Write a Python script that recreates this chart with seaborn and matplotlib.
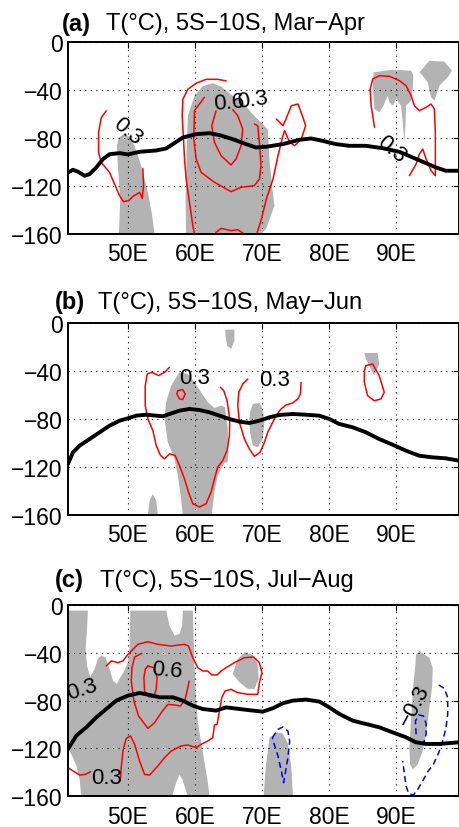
import matplotlib
matplotlib.use("Agg")
import matplotlib.pyplot as plt
import seaborn as sns

# ---------------- data (lon in degrees E, depth in m) ----------------
xticks = [50, 60, 70, 80, 90]
xticklabels = ["50E", "60E", "70E", "80E", "90E"]
yticks = [0, -40, -80, -120, -160]
yticklabels = ["0", "\u221240", "\u221280", "\u2212120", "\u2212160"]
titles_tag = ["(a)", "(b)", "(c)"]
titles_text = ["T(\u00b0C), 5S\u221210S, Mar\u2212Apr",
               "T(\u00b0C), 5S\u221210S, May\u2212Jun",
               "T(\u00b0C), 5S\u221210S, Jul\u2212Aug"]

# thick black line (thermocline depth)
line_a_lon = [41.07, 41.81, 42.56, 43.55, 44.29, 45.29, 46.28, 47.27, 48.76, 50.0, 51.74, 54.22, 55.71,
              56.7, 58.19, 60.17, 62.16, 63.65, 65.63, 67.62, 69.1, 70.6, 73.08, 75.56, 77.3, 79.03,
              81.02, 83.0, 85.48, 87.97, 90.45, 92.43, 94.42, 95.9, 97.39, 99.38]
line_a_dep = [-108.7, -106.5, -108.1, -111.5, -110.1, -104.5, -97.6, -93.5, -92.6, -93.7, -91.5, -90.4,
              -88.7, -85.1, -79.6, -76.8, -76.0, -77.6, -81.0, -85.1, -87.9, -87.3, -85.1, -81.5, -80.4,
              -82.4, -85.1, -86.5, -86.5, -88.5, -91.5, -96.2, -100.9, -104.5, -107.3, -107.3]
line_b_lon = [41.07, 41.81, 42.8, 44.29, 45.78, 47.27, 48.76, 50.0, 51.24, 52.73, 54.22, 55.21, 56.2,
              57.69, 59.18, 60.67, 62.16, 63.65, 65.14, 66.63, 68.11, 69.6, 71.09, 72.58, 74.57, 76.55,
              78.54, 80.02, 81.51, 83.5, 85.48, 87.47, 89.45, 91.44, 93.42, 95.41, 97.39, 99.38]
line_b_dep = [-117.4, -107.7, -102.1, -96.6, -91.0, -85.4, -81.3, -79.3, -77.1, -76.3, -77.1, -77.6,
              -75.7, -72.9, -71.5, -72.4, -74.3, -77.1, -79.9, -82.1, -83.2, -81.3, -78.5, -76.5, -75.7,
              -76.3, -77.1, -79.9, -84.0, -86.8, -91.0, -96.6, -101.3, -106.3, -110.5, -111.9, -112.7,
              -114.7]
line_c_lon = [41.07, 42.31, 43.8, 45.29, 46.77, 48.26, 50.0, 51.74, 53.23, 54.71, 56.7, 58.19, 59.68,
              61.17, 63.15, 64.64, 66.63, 68.61, 70.1, 71.59, 73.08, 74.57, 76.55, 78.54, 80.02, 81.51,
              83.5, 85.48, 87.47, 89.45, 91.44, 92.93, 94.42, 96.4, 99.38]
line_c_dep = [-120.4, -109.3, -102.3, -93.9, -87.0, -80.0, -75.8, -73.6, -75.2, -77.2, -77.2, -80.0,
              -84.2, -87.0, -88.3, -85.6, -87.0, -88.3, -89.2, -86.4, -82.2, -80.0, -79.1, -80.8, -85.6,
              -91.1, -96.7, -99.5, -102.3, -106.5, -110.6, -114.8, -116.2, -116.2, -114.8]

# grey shaded (significant) regions: (lon, depth) vertices
shade_a = [
    [(48.66, -160), (48.86, -130.9), (48.51, -103.2), (48.36, -86.5), (48.66, -79.6), (49.35, -76.8),
     (50.25, -78.8), (50.99, -86.5), (51.99, -103.2), (52.98, -125.3), (53.62, -144.8), (53.97, -160)],
    [(58.68, -160), (58.59, -131.0), (58.78, -89.0), (58.93, -61.6), (59.93, -44.9), (61.17, -36.6),
     (62.66, -34.4), (63.9, -37.2), (65.63, -44.9), (67.12, -50.5), (68.61, -60.2), (70.1, -68.5),
     (70.84, -72.7), (71.09, -97.6), (71.49, -119.8), (71.84, -136.4), (70.6, -155.8), (69.85, -160)],
    [(86.61, -25.3), (89.49, -23.1), (92.22, -23.9), (92.56, -28.1), (92.46, -39.2), (92.22, -48.9),
     (91.47, -53.1), (91.37, -69.7), (91.22, -83.6), (90.97, -66.9), (90.72, -53.1), (89.98, -47.5),
     (89.49, -53.1), (88.99, -50.3), (88.74, -44.7), (88.1, -53.1), (87.5, -58.6), (86.76, -55.8),
     (86.5, -39.2)],
    [(93.45, -25.3), (94.94, -15.6), (97.17, -16.4), (98.31, -23.9), (97.67, -29.4), (96.43, -36.4),
     (95.68, -48.9), (95.19, -46.1), (94.69, -33.6), (93.95, -28.1)],
]
shade_b = [
    [(58.18, -160), (57.93, -146.4), (57.44, -127.0), (56.94, -113.1), (55.95, -99.2), (55.46, -79.8),
     (55.7, -65.8), (56.45, -52.0), (57.69, -40.8), (58.93, -42.3), (59.93, -49.2), (60.91, -57.5),
     (61.9, -65.8), (62.9, -70.8), (63.89, -68.7), (64.48, -70.0), (64.88, -88.1), (64.98, -104.8),
     (64.88, -115.8), (64.39, -116.4), (63.39, -127.0), (62.9, -140.8), (62.5, -160)],
    [(52.98, -160), (53.23, -148.0), (53.72, -142.5), (54.22, -148.0), (54.47, -160)],
    [(64.54, -5.3), (65.88, -5.3), (65.88, -14.5), (65.38, -21.4), (64.79, -18.6), (64.54, -10.0)],
    [(68.21, -74.3), (68.61, -67.3), (69.6, -66.5), (70.1, -71.5), (70.35, -82.7), (70.1, -96.6),
     (69.35, -103.5), (68.61, -102.1), (68.21, -91.0), (68.11, -79.9)],
    [(85.24, -24.8), (87.22, -24.8), (87.47, -34.0), (86.72, -43.7), (86.23, -38.1), (85.48, -29.8)],
]
shade_c = [
    [(41.07, -4.7), (44.04, -4.7), (43.9, -20.1), (43.7, -36.8), (43.9, -50.7), (44.39, -60.5),
     (45.04, -53.5), (45.53, -45.1), (46.03, -42.4), (46.67, -43.8), (47.27, -53.5), (47.77, -63.3),
     (48.36, -66.1), (48.86, -60.5), (49.35, -56.3), (50.0, -47.9), (50.25, -36.8), (50.35, -4.7),
     (55.71, -4.7), (56.2, -17.3), (56.95, -25.6), (57.69, -24.2), (58.09, -17.3), (58.19, -4.7),
     (59.68, -4.7), (59.78, -22.9), (59.93, -50.7), (60.17, -78.6), (60.42, -98.1), (60.92, -114.8),
     (61.41, -131.5), (61.91, -148.3), (62.16, -160), (58.93, -160), (58.09, -145.5), (57.69, -142.1),
     (57.2, -148.3), (56.6, -160), (43.05, -160), (42.8, -145.5), (42.31, -134.3), (41.56, -124.6),
     (41.07, -120.4)],
    [(65.63, -57.7), (66.38, -45.1), (67.37, -39.6), (68.61, -41.8), (69.35, -49.3), (69.5, -61.9),
     (68.86, -70.2), (67.87, -70.2), (66.63, -64.7)],
    [(70.24, -160), (70.54, -135.5), (71.13, -110.6), (72.37, -106.4), (73.11, -107.7), (73.85, -116.1),
     (74.36, -135.5), (74.6, -160)],
    [(92.96, -41.3), (93.45, -38.5), (94.94, -44.1), (95.44, -52.4), (95.34, -69.2), (94.94, -85.9),
     (94.45, -108.1), (93.95, -122.1), (93.2, -133.3), (92.46, -137.4), (92.06, -133.3), (91.96, -119.3),
     (92.22, -94.3), (92.56, -66.4), (92.86, -49.6)],
]

# red (positive) contour lines
red_a = [
    [(46.77, -57.4), (46.03, -62.9), (45.63, -75.4), (45.63, -92.1), (46.03, -100.4), (47.27, -108.7),
     (48.01, -118.4), (48.76, -128.1), (49.35, -133.1), (50.15, -132.0), (50.74, -128.7), (51.34, -126.7),
     (51.74, -125.3), (52.13, -130.3), (52.33, -119.8), (52.23, -105.4)],
    [(64.64, -32.4), (63.40, -31.1), (61.66, -31.1), (60.17, -34.4), (58.93, -39.4), (58.19, -47.7),
     (58.09, -61.6), (58.29, -81.0), (58.44, -97.6), (58.68, -114.2), (59.18, -133.7), (59.68, -153.1),
     (59.93, -160)],
    [(72.12, -64.2), (73.11, -69.7), (73.36, -66.9), (74.36, -53.1), (75.35, -51.7), (76.09, -62.8),
     (76.49, -69.7), (75.85, -80.8), (74.85, -86.4), (74.11, -83.6), (73.36, -73.9), (73.11, -78.1),
     (72.37, -94.7), (71.63, -114.2), (70.64, -130.8), (69.9, -147.5), (69.21, -160)],
    [(61.41, -46.1), (59.92, -57.2), (59.82, -80.8), (60.17, -97.5), (60.91, -108.6), (62.9, -116.9),
     (65.38, -124.7), (66.87, -121.1), (68.85, -119.7), (69.6, -114.2), (69.84, -103.1), (69.6, -83.6),
     (69.35, -69.7), (68.85, -68.3)],
    [(63.15, -57.2), (62.5, -69.7), (62.9, -83.6), (63.89, -94.7), (65.38, -102.5), (66.12, -97.5),
     (66.87, -86.4), (67.11, -72.5), (66.37, -61.4), (65.63, -56.4)],
    [(63.0, -160), (63.15, -158.6), (63.89, -155.3), (65.38, -157.2), (66.37, -156.4), (67.36, -160)],
    [(86.76, -71.1), (86.26, -53.1), (86.11, -39.2), (86.5, -30.8), (87.5, -28.1), (88.99, -28.6),
     (90.48, -32.2), (91.47, -36.4), (92.22, -44.7), (92.71, -53.1), (93.45, -57.2), (94.45, -54.4),
     (95.19, -51.7), (95.68, -55.8), (95.83, -75.3), (95.83, -97.5), (95.83, -111.4), (95.19, -107.2),
     (94.45, -97.5), (93.95, -89.2), (93.45, -93.3), (92.96, -101.7), (91.96, -111.4)],
]
red_b = [
    [(56.2, -36.7), (55.46, -40.9), (54.57, -43.6), (53.57, -40.9), (52.88, -42.3), (52.58, -52.0),
     (52.58, -68.7), (52.98, -79.8), (53.72, -89.5), (54.22, -102.0), (54.86, -110.3), (55.46, -113.1),
     (56.2, -108.9), (57.04, -110.3), (57.69, -118.7), (58.43, -129.8), (59.03, -140.8), (59.67, -150.6),
     (60.67, -153.3), (61.65, -150.6), (62.4, -140.8), (62.9, -129.8), (63.39, -120.0), (64.14, -114.5),
     (64.78, -106.2), (65.13, -93.7), (65.18, -79.8), (64.78, -64.5), (64.29, -56.2), (63.79, -53.4)],
    [(57.44, -56.2), (58.18, -55.3), (58.53, -58.9), (58.18, -63.6), (57.69, -63.1), (57.29, -58.9),
     (57.44, -56.2)],
    [(67.87, -46.5), (67.12, -50.7), (66.53, -57.6), (66.38, -68.7), (66.63, -82.7), (67.37, -96.6),
     (68.11, -104.9), (68.86, -111.0), (69.7, -107.7), (70.35, -99.4), (70.84, -91.0), (71.34, -85.4),
     (72.08, -77.1), (72.83, -71.5), (73.57, -68.2), (74.57, -66.5), (75.31, -63.2), (75.71, -59.0),
     (75.81, -49.3)],
    [(85.48, -35.3), (86.48, -34.0), (87.47, -43.7), (88.21, -57.6), (87.72, -63.2), (86.72, -64.6),
     (85.73, -60.4), (85.24, -49.3), (85.24, -39.5), (85.48, -35.3)],
]
red_c = [
    [(46.77, -51.0), (47.52, -46.8), (48.51, -48.2), (49.26, -46.8), (50.0, -41.3), (51.49, -32.9),
     (52.98, -30.7), (54.46, -32.9), (56.45, -34.3), (58.43, -32.9), (59.03, -34.3), (59.67, -44.1),
     (60.42, -52.4), (61.16, -55.2), (61.9, -55.2), (62.5, -58.5), (63.29, -58.5), (63.89, -55.2),
     (64.78, -51.9), (65.88, -48.2), (67.36, -44.1), (68.75, -43.5), (69.6, -48.2), (69.98, -56.6),
     (69.6, -65.0), (69.35, -74.7), (67.86, -74.7), (66.37, -73.3), (65.38, -70.5), (64.48, -71.9),
     (63.99, -77.5), (63.65, -88.7), (63.29, -99.8), (62.9, -100.4), (62.65, -111.0), (61.9, -113.8),
     (60.91, -116.5), (60.17, -119.3), (58.93, -117.1), (57.93, -117.9), (56.45, -122.1), (55.46, -127.7),
     (54.46, -134.7), (53.23, -142.2), (52.48, -141.6), (51.74, -130.5), (51.0, -116.5), (50.4, -109.6),
     (49.75, -111.5), (49.26, -122.1), (49.0, -136.1), (48.91, -144.4)],
    [(52.08, -40.4), (51.0, -43.5), (50.6, -52.4), (50.5, -63.6), (50.89, -80.3), (51.59, -92.8),
     (52.98, -103.2), (53.97, -98.4), (54.96, -90.1), (55.95, -83.1), (56.94, -83.6), (57.84, -84.5),
     (58.53, -78.9), (58.93, -69.2), (59.13, -63.6)],
    [(52.98, -51.0), (53.87, -52.4), (54.36, -60.8), (54.21, -70.5), (53.87, -76.9), (53.13, -76.9),
     (52.48, -71.9), (52.38, -60.8), (52.58, -53.8), (52.98, -51.0)],
    [(41.07, -136.1), (41.82, -138.8), (42.81, -142.2), (43.65, -141.6), (44.45, -139.4)],
]
# blue dashed (negative) contour lines
blue_c = [
    [(71.53, -111.0), (72.37, -104.0), (73.11, -102.0), (73.85, -105.4), (74.11, -113.8), (73.85, -127.7),
     (73.51, -138.8), (73.21, -148.6), (72.87, -138.8), (72.37, -126.3), (71.88, -117.9), (71.53, -111.0)],
    [(92.96, -108.1), (92.86, -97.0), (93.35, -92.0), (94.05, -92.8), (94.45, -99.3), (94.45, -108.1),
     (94.2, -113.8), (93.45, -117.1), (92.96, -113.8)],
    [(96.33, -66.9), (97.17, -69.7), (97.67, -77.5), (97.67, -91.4), (97.42, -102.6), (96.92, -113.8),
     (96.33, -123.5), (95.54, -133.3), (94.69, -139.4), (93.95, -147.2), (93.2, -154.2), (92.56, -158.9),
     (91.86, -157.8), (91.47, -151.4), (91.22, -141.6), (90.97, -130.5)],
]
# contour labels: (lon, depth, text, rotation)
labels_a = [(50.0, -74.0, "0.3", -40), (65.1, -50.0, "0.6", 5), (68.6, -48.0, "0.3", 8),
            (89.3, -89.0, "0.3", -40)]
labels_b = [(59.9, -45.0, "0.3", 0), (71.8, -46.5, "0.3", 0)]
labels_c = [(43.2, -70.5, "0.3", 18), (55.8, -54.0, "0.6", -5), (46.8, -144.0, "0.3", 0),
            (92.7, -84.0, "\u22120.3", 62)]

# ---------------- styling ----------------
sns.set_style("white")
plt.rcParams['font.family'] = ['Liberation Sans', 'DejaVu Sans']
plt.rcParams['axes.unicode_minus'] = True
plt.rcParams['text.color'] = 'black'
plt.rcParams['xtick.color'] = 'black'
plt.rcParams['ytick.color'] = 'black'

GREY = "#b3b3b3"
W, H = 460.0, 828.0
fig = plt.figure(figsize=(4.6, 8.28), dpi=100)

panels = [
    dict(top=43, bot=235, tag_x=62, text_x=106, title_y=24, line=(line_a_lon, line_a_dep),
         shade=shade_a, red=red_a, blue=[], labels=labels_a),
    dict(top=324.3, bot=516, tag_x=55, text_x=98, title_y=303, line=(line_b_lon, line_b_dep),
         shade=shade_b, red=red_b, blue=[], labels=labels_b),
    dict(top=606, bot=797.3, tag_x=55, text_x=100, title_y=581, line=(line_c_lon, line_c_dep),
         shade=shade_c, red=red_c, blue=blue_c, labels=labels_c),
]

for i, p in enumerate(panels):
    ax = fig.add_axes([68 / W, 1 - p['bot'] / H, (459.3 - 68) / W, (p['bot'] - p['top']) / H])
    for poly in p['shade']:
        xs, ys = zip(*poly)
        ax.fill(xs, ys, color=GREY, lw=0, zorder=1)
    for ln in p['red']:
        xs, ys = zip(*ln)
        ax.plot(xs, ys, color="#ff0000", lw=1.1, zorder=3)
    for ln in p['blue']:
        xs, ys = zip(*ln)
        ax.plot(xs, ys, color="#0000ff", lw=1.1, ls=(0, (4, 2.5)), zorder=3)
    sns.lineplot(x=p['line'][0], y=p['line'][1], sort=False, estimator=None, color="black",
                 lw=2.8, ax=ax, zorder=4)
    for (lx, ly, t, rot) in p['labels']:
        ax.text(lx, ly, t, fontsize=16, rotation=rot, ha="center", va="center",
                rotation_mode="anchor", zorder=5, color="black")
    ax.set_xlim(41.07, 99.4)
    ax.set_ylim(-160, 0)
    ax.set_xticks(xticks)
    ax.set_xticklabels(xticklabels)
    ax.set_yticks(yticks)
    ax.set_yticklabels(yticklabels)
    ax.grid(True, color="black", lw=0.8, ls=(0, (1, 4)))
    ax.set_axisbelow(False)
    ax.tick_params(axis="both", direction="in", length=4, width=0.8, labelsize=16.5,
                   top=True, right=True, colors="black", labelcolor="black")
    ax.tick_params(axis="x", pad=6)
    ax.tick_params(axis="y", pad=4)
    for s in ax.spines.values():
        s.set_linewidth(1.4)
        s.set_color("black")
        s.set_zorder(6)
    ax.set_xlabel("")
    ax.set_ylabel("")
    fig.text(p['tag_x'] / W, 1 - p['title_y'] / H, titles_tag[i], fontsize=17,
             fontweight="bold", ha="left", va="center", color="black")
    fig.text(p['text_x'] / W, 1 - p['title_y'] / H, titles_text[i], fontsize=17,
             ha="left", va="center", color="black")

fig.savefig("out.png", dpi=100)
